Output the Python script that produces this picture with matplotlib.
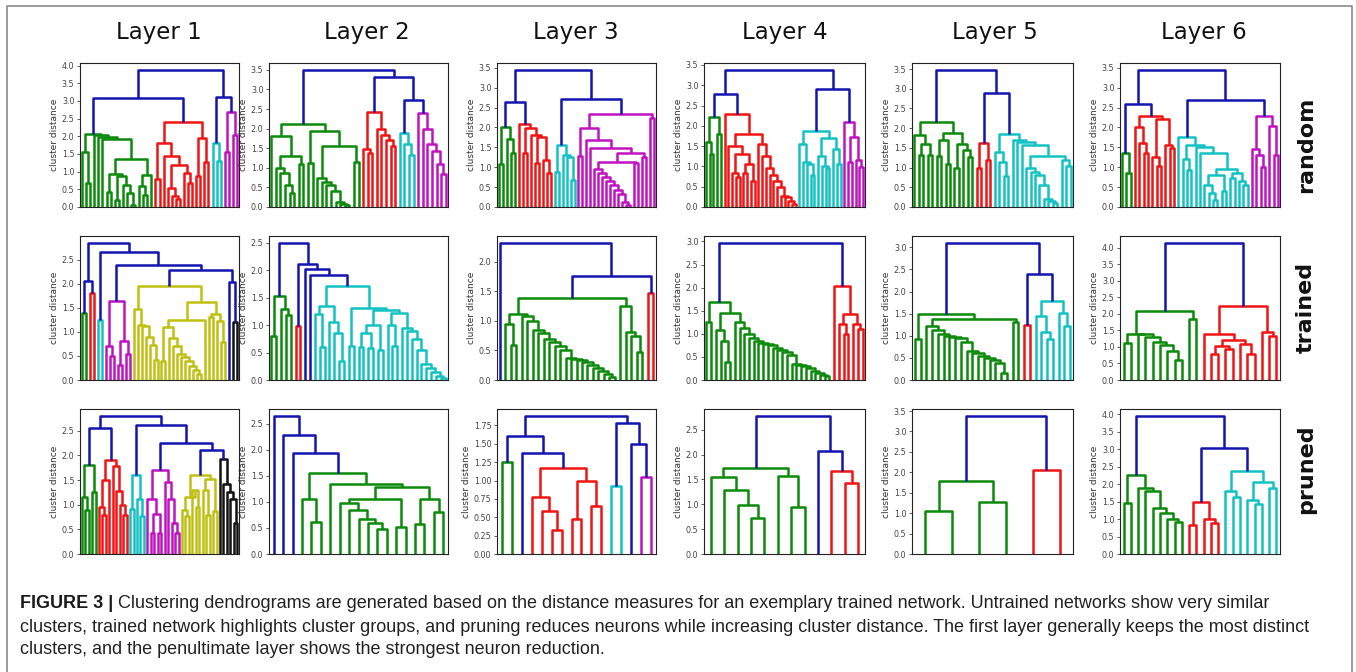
import matplotlib
matplotlib.use("Agg")
import matplotlib.pyplot as plt
from matplotlib.lines import Line2D
from matplotlib.ticker import MultipleLocator, FormatStrFormatter
from matplotlib import font_manager


def chain(hs, end=0):
    # comb: each height joins one leaf (left) to the rest (right)
    node = end
    for h in reversed(hs):
        node = (h, 0, node)
    return node


# trees: node = (height, left, right), leaf = 0
random_l1 = (3.88,
             (3.08,
              (2.07, (1.55, 0, (0.68, 0, 0)),
               chain([2.03, 1.97, 1.92],
                     (1.35, (0.93, (0.42, 0, 0), (0.88, (0.2, 0, 0), chain([0.62, 0.4, 0.05]))),
                      (0.9, (0.58, 0, (0.35, 0, 0)), 0)))),
              (2.4, (1.8, (0.78, 0, 0),
                     (1.45, 0, (1.2, (0.55, 0, chain([0.32, 0.22])), (0.95, 0, (0.68, 0, 0))))),
               (1.95, (0.88, 0, 0), (1.28, 0, 0)))),
             (3.1, (1.82, 0, (1.3, 0, 0)), (2.68, (1.55, 0, 0), (2.05, 0, 0))))

random_l2 = (3.5,
             (2.13, (1.8, 0, (1.3, (1.0, 0, chain([0.88, 0.55, 0.35])), (1.1, 0, 0))),
              (1.93, (1.12, 0, 0),
               (1.55, chain([0.75, 0.65, 0.55, 0.42, 0.12, 0.08, 0.05]), (1.15, 0, 0)))),
             (3.32, (2.42, (1.48, 0, (1.38, 0, 0)), chain([2.0, 1.83, 1.7, 1.55])),
              (2.72, chain([1.88, 1.6, 1.33]), chain([2.4, 2.0, 1.62, 1.42, 1.1, 0.85]))))

random_l3 = (3.45,
             (2.65, (2.02, (1.08, 0, 0), chain([1.72, 1.35])),
              (2.1, 0, (1.98, (1.35, 0, 0), (1.8, 0, (1.75, (1.1, 0, 0), chain([1.18, 0.85])))))),
             (2.72, (1.55, (0.88, 0, 0), chain([1.32, 1.25, 0.68])),
              (2.35, (1.98, (1.28, 0, 0),
                      (1.68, 0, (1.48, 0, (1.35,
                                           (1.12, chain([0.95, 0.85, 0.75, 0.65, 0.55, 0.42, 0.32, 0.12, 0.05]),
                                            (1.1, 0, 0)),
                                           (1.25, 0, 0))))),
               (2.25, 0, 0))))

random_l4 = (3.38,
             (2.78, (2.22, (1.6, 0, (1.3, 0, 0)), (1.8, 0, 0)),
              (2.3, 0, (1.8, (1.5, 0, (1.3, (0.85, 0, (0.75, 0, 0)), (1.05, (0.85, 0, 0), (0.65, 0, 0)))),
                        chain([1.55, 1.25, 0.95, 0.8, 0.65, 0.5, 0.28, 0.25, 0.15, 0.08])))),
             (2.9, (1.88, chain([1.55, 1.12, 1.05, 0.78]),
                    (1.7, chain([1.25, 1.02, 0.95]), chain([1.42, 1.05]))),
              (2.1, 0, (1.72, (1.1, 0, 0), chain([1.15, 0.98])))))

random_l5 = (3.48,
             (2.15, (1.82, 0, (1.6, (1.33, 0, 0), (1.33, 0, 0))),
              (1.88, (1.7, (1.3, 0, 0), (1.08, 0, 0)), (1.6, (1.0, 0, 0), chain([1.45, 1.28])))),
             (2.9, (1.62, (1.0, 0, 0), (1.2, 0, 0)),
              (1.85, (1.4, 0, chain([1.15, 0.78])),
               chain([1.7, 1.65, 1.58],
                     (1.3, chain([1.0, 0.88, 0.8, 0.55, 0.2, 0.15, 0.1]), chain([1.2, 1.05]))))))

random_l6 = (3.45,
             (2.58, (1.35, 0, (0.85, 0, 0)),
              (2.3, (2.0, 0, chain([1.62, 1.35])),
               (2.22, (1.25, 0, (1.02, 0, 0)), chain([1.55, 1.48])))),
             (2.7, (1.75, 0, (1.55, chain([1.2, 0.92]),
                              chain([1.5, 1.35],
                                    (0.95, (0.8, chain([0.55, 0.35, 0.18]), (0.4, 0, 0)),
                                     (0.85, (0.72, 0, 0), chain([0.65, 0.55])))))),
              (2.3, chain([1.45, 1.3, 1.0]), chain([2.05, 1.3]))))

trained_l1 = (2.85,
              (2.05, (1.4, 0, 0), (1.8, 0, 0)),
              (2.65, (1.25, 0, 0),
               (2.38, (1.65, (0.7, 0, (0.5, 0, 0)), (0.82, (0.32, 0, 0), (0.55, 0, 0))),
                (2.28, (1.95, (1.48, 0, chain([1.15, 1.12, 0.9, 0.72, 0.42])),
                        (1.62, (1.25, (1.1, (0.4, 0, 0),
                                       chain([0.88, 0.7, 0.55, 0.48, 0.4, 0.3, 0.2, 0.12])), 0),
                         (1.38, (1.3, 0, 0), chain([1.22, 0.78])))),
                 (2.03, 0, (1.2, 0, 0))))))

trained_l2 = (2.5,
              (1.53, (0.8, 0, 0), chain([1.3, 1.18])),
              (2.12, (0.98, 0, 0),
               (2.02, 0, (1.92, 0,
                          (1.72, (1.35, (1.2, 0, (0.6, 0, 0)), chain([1.05, 0.85, 0.35])),
                           (1.32, (0.62, 0, 0),
                            (1.28, (1.0, (0.85, (0.6, 0, 0), (0.58, 0, 0)), (0.55, 0, 0)),
                             (1.22, chain([1.0, 0.62]),
                              chain([0.95, 0.9, 0.75, 0.55, 0.3, 0.22, 0.15, 0.08, 0.03])))))))))

trained_l3 = (2.32, 0,
              (1.76,
               (1.38, (1.12, (0.95, 0, (0.6, 0, 0)),
                       chain([1.08, 1.0, 0.85, 0.8, 0.7, 0.65, 0.58, 0.5, 0.38, 0.36, 0.34,
                              0.3, 0.26, 0.2, 0.15, 0.1, 0.05])),
                (1.25, 0, chain([0.82, 0.75, 0.48]))),
               (1.48, 0, 0)))

trained_l4 = (2.97,
              (1.7, (1.25, 0, 0),
               (1.45, (1.08, 0, chain([0.85, 0.4])),
                (1.25, 0, chain([1.12, 1.0, 0.92, 0.85, 0.8, 0.78, 0.75, 0.7, 0.65, 0.6, 0.55,
                                 0.35, 0.32, 0.3, 0.25, 0.2, 0.15, 0.1, 0.08])))),
              (2.03, 0, (1.42, (1.22, 0, (1.0, 0, 0)), (1.22, 0, (1.1, 0, 0)))))

trained_l5 = (3.1,
              (1.5, (0.92, 0, 0),
               (1.38, (1.22, 0, chain([1.12, 1.05, 1.0, 0.98, 0.95, 0.85, 0.65, 0.6, 0.55, 0.5,
                                       0.45, 0.38, 0.15])),
                (1.3, 0, 0))),
              (2.4, (1.25, 0, 0),
               (1.78, (1.45, 0, chain([1.08, 0.92])), chain([1.52, 1.22]))))

trained_l6 = (4.15,
              (2.1, (1.4, (1.12, 0, 0), chain([1.38, 1.3, 1.15, 1.05, 0.88, 0.6])), (1.85, 0, 0)),
              (2.25, (1.4, 0, (1.22, (1.02, (0.8, 0, 0), (0.95, 0, 0)), (1.08, 0, (0.8, 0, 0)))),
               (1.45, 0, (1.32, 0, 0))))

pruned_l1 = (2.8,
             (2.55, (1.8, (1.15, 0, (0.9, 0, 0)), (1.25, 0, 0)),
              (1.9, (1.5, (0.95, 0, (0.8, 0, 0)), 0), chain([1.78, 1.28, 1.0, 0.8]))),
             (2.62, (1.6, (0.92, 0, 0), chain([1.12, 0.78])),
              (2.25, (1.7, (1.12, 0, (0.82, (0.42, 0, 0), (0.42, 0, 0))), chain([1.45, 1.12, 0.62, 0.42])),
               (2.1, (1.6, (1.15, chain([0.9, 0.78]), chain([1.3, 0.95])),
                      (1.52, chain([1.3, 0.8]), (0.88, 0, 0))),
                chain([1.93, 1.42, 1.25, 1.12, 0.62])))))

pruned_l2 = (2.65, 0,
             (2.28, 0,
              (1.93, 0,
               (1.55, (1.05, 0, (0.62, 0, 0)),
                (1.35, 0, (1.28, (1.05, chain([0.98, 0.85, 0.68, 0.6, 0.48]), (0.52, 0, 0)),
                           (1.05, (0.58, 0, 0), (0.8, 0, 0))))))))

pruned_l3 = (1.88,
             (1.6, (1.25, 0, 0),
              (1.38, 0, (1.17, (0.77, 0, chain([0.58, 0.32])), (1.0, (0.47, 0, 0), (0.65, 0, 0))))),
             (1.78, (0.93, 0, 0), (1.5, 0, (1.05, 0, 0))))

pruned_l4 = (2.78,
             (1.73, (1.55, 0, chain([1.28, 0.98, 0.72])), chain([1.57, 0.95])),
             (2.07, 0, (1.68, 0, (1.42, 0, 0))))

pruned_l5 = (3.38, (1.78, (1.05, 0, 0), (1.27, 0, 0)), (2.05, 0, 0))

pruned_l6 = (3.95,
             (2.25, (1.45, 0, 0), chain([1.9, 1.8, 1.32, 1.18, 1.0, 0.92])),
             (3.03, (1.48, (0.82, 0, 0), chain([1.0, 0.9])),
              (2.38, (1.8, 0, (1.62, 0, 0)), (2.05, (1.55, 0, (1.42, 0, 0)), (1.88, 0, 0)))))

rows = ["random", "trained", "pruned"]
layers = ["Layer 1", "Layer 2", "Layer 3", "Layer 4", "Layer 5", "Layer 6"]
trees = [
    [random_l1, random_l2, random_l3, random_l4, random_l5, random_l6],
    [trained_l1, trained_l2, trained_l3, trained_l4, trained_l5, trained_l6],
    [pruned_l1, pruned_l2, pruned_l3, pruned_l4, pruned_l5, pruned_l6],
]

caption_lines = [
    "Clustering dendrograms are generated based on the distance measures for an exemplary trained network. Untrained networks show very similar",
    "clusters, trained network highlights cluster groups, and pruning reduces neurons while increasing cluster distance. The first layer generally keeps the most distinct",
    "clusters, and the penultimate layer shows the strongest neuron reduction.",
]

palette = ["#0b8a0b", "#f01414", "#12c2c2", "#c012c0", "#c0c012", "#111111"]
above = "#1414b0"

W, H = 1356, 672
col_x = [(80, 239), (269, 448), (497, 656), (704, 865), (912, 1073), (1120, 1280)]
row_y = [(63, 207), (236, 380), (409, 554)]
title_x = [159, 367, 576, 785, 995, 1204]
label_y = [145, 307, 469]


def draw_tree(ax, tree):
    cut = 0.7 * tree[0]
    state = {"leaf": 0, "col": 0}

    def walk(node, color):
        if not isinstance(node, tuple):
            x = 5 + 10 * state["leaf"]
            state["leaf"] += 1
            return x, 0.0
        h, a, b = node
        if color is None and h < cut:
            color = palette[state["col"] % len(palette)]
            state["col"] += 1
        xa, ya = walk(a, color)
        xb, yb = walk(b, color)
        ax.plot([xa, xa, xb, xb], [ya, h, h, yb], color=color or above,
                lw=1.8, solid_capstyle="butt")
        return (xa + xb) / 2, h

    walk(tree, None)
    ax.set_xlim(0, 10 * state["leaf"])
    ax.set_ylim(0, 1.05 * tree[0])


fig = plt.figure(figsize=(W / 100, H / 100), dpi=100)

for r in range(3):
    for c in range(6):
        x0, x1 = col_x[c]
        y0, y1 = row_y[r]
        ax = fig.add_axes([x0 / W, 1 - y1 / H, (x1 - x0) / W, (y1 - y0) / H])
        tree = trees[r][c]
        draw_tree(ax, tree)
        step = 0.25 if tree[0] < 2 else 0.5
        ax.yaxis.set_major_locator(MultipleLocator(step))
        ax.yaxis.set_major_formatter(FormatStrFormatter("%.2f" if step < 0.5 else "%.1f"))
        ax.set_xticks([])
        ax.tick_params(axis="y", labelsize=5.8, colors="#444444", length=2.5, width=0.6, pad=1.5)
        for s in ax.spines.values():
            s.set_linewidth(0.8)
            s.set_color("#222222")
        ax.set_ylabel("cluster distance", fontsize=6.5, color="#333333", labelpad=2)

for c, name in enumerate(layers):
    fig.text(title_x[c] / W, 1 - 33 / H, name, fontsize=16.5, ha="center", va="center", color="#111111")

for r, name in enumerate(rows):
    fig.text(1306 / W, 1 - label_y[r] / H, name, fontsize=16, fontweight="bold", rotation=90,
             ha="center", va="center", color="#111111")

# outer frame
fx0, fx1, fy0 = 7 / W, 1352 / W, 1 - 6 / H
fig.add_artist(Line2D([fx0, fx0, fx1, fx1], [0, fy0, fy0, 0], color="#8a8a8a", lw=1.2,
                      transform=fig.transFigure))

# caption
names = {f.name for f in font_manager.fontManager.ttflist}
cap_font = "Liberation Sans Narrow" if "Liberation Sans Narrow" in names else "Liberation Sans"
cap_y = [604, 627, 650]
probe = fig.text(20 / W, 0.5, caption_lines[1], fontsize=14, family=cap_font)
fig.canvas.draw()
rend = fig.canvas.get_renderer()
wpx = probe.get_window_extent(rend).width
probe.remove()
cap_size = 14 * 1301 / wpx

head = fig.text(20 / W, 1 - cap_y[0] / H, "FIGURE 3 |", fontsize=cap_size, family=cap_font,
                fontweight="bold", va="center", color="#1a1a1a")
plt.annotate(" " + caption_lines[0], xy=(1, 0.5), xycoords=head, va="center", ha="left",
             fontsize=cap_size, family=cap_font, color="#222222", annotation_clip=False)
for i in (1, 2):
    fig.text(20 / W, 1 - cap_y[i] / H, caption_lines[i], fontsize=cap_size, family=cap_font,
             va="center", color="#222222")

fig.savefig("out.png", dpi=100)
